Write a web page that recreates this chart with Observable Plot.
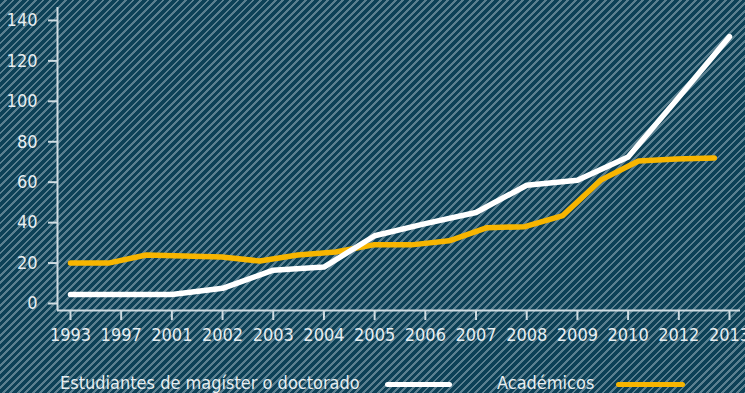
<!DOCTYPE html>
<html><head><meta charset="utf-8">
<script src="https://cdn.jsdelivr.net/npm/d3@7"></script>
<script src="https://cdn.jsdelivr.net/npm/@observablehq/plot@0.6"></script>
<style>
html,body{margin:0;padding:0;}
body{width:745px;height:393px;overflow:hidden;position:relative;
background:repeating-linear-gradient(135deg,#0d4157 0px,#0d4157 3.3px,#5b8090 3.3px,#5b8090 5.3px);
font-family:"Liberation Sans Narrow","DejaVu Sans Condensed",sans-serif;color:#e6edf0;}
#chart{position:absolute;left:0;top:0;}
.lg{position:absolute;font-size:18px;line-height:20px;white-space:nowrap;}
.sw{position:absolute;height:5px;border-radius:3px;}
</style></head>
<body>
<div id="chart"></div>
<div class="lg" style="left:60px;top:373px;">Estudiantes de magíster o doctorado</div>
<div class="sw" style="left:385px;top:382px;width:67px;background:#ffffff;"></div>
<div class="lg" style="left:497px;top:373px;">Académicos</div>
<div class="sw" style="left:616px;top:382px;width:69px;background:#f7b500;"></div>
<script>
const years = ["1993","1997","2001","2002","2003","2004","2005","2006","2007","2008","2009","2010","2012","2013"];
const yTicks = [0,20,40,60,80,100,120,140];
const estudiantes = [4.5,4.5,4.5,7.5,16.5,18,33.5,39.5,45,58.5,61,72.5,102,132];
const academicos = [20,20,24,23.5,23,21,24,25.5,29,29,31,37.5,38,43.5,61,70.5,71.5,72];

const estData = estudiantes.map((v,i)=>({x:i, y:v}));
const acaData = academicos.map((v,i)=>({x:i*12.7/(academicos.length-1), y:v}));

const xMin = -0.256, xMax = 13.217, yMin = -3.46, yMax = 146.4;
const axisColor = "#cfdce2";

const plot = Plot.plot({
  width:745, height:355,
  marginLeft:57, marginRight:5, marginTop:7, marginBottom:45,
  style:{background:"transparent", color:"#e6edf0", fontSize:"18px",
    fontFamily:'"Liberation Sans Narrow","DejaVu Sans Condensed",sans-serif'},
  x:{type:"linear", domain:[xMin,xMax]},
  y:{domain:[yMin,yMax]},
  marks:[
    Plot.axisY({ticks:yTicks, tickSize:9, tickPadding:11, stroke:axisColor, strokeWidth:2, label:null, fill:"#e6edf0"}),
    Plot.axisX({ticks:d3.range(years.length), tickFormat:i=>years[i], tickSize:10, tickPadding:8, stroke:axisColor, strokeWidth:2, label:null, fill:"#e6edf0"}),
    Plot.ruleX([xMin], {y1:yMin, y2:yMax, stroke:axisColor, strokeWidth:2}),
    Plot.ruleY([yMin], {x1:xMin, x2:xMax, stroke:axisColor, strokeWidth:2}),
    Plot.line(acaData, {x:"x", y:"y", stroke:"#f7b500", strokeWidth:5.5, strokeLinecap:"round", strokeLinejoin:"round"}),
    Plot.line(estData, {x:"x", y:"y", stroke:"#ffffff", strokeWidth:5.5, strokeLinecap:"round", strokeLinejoin:"round"})
  ]
});
document.getElementById("chart").appendChild(plot);
</script>
</body></html>
